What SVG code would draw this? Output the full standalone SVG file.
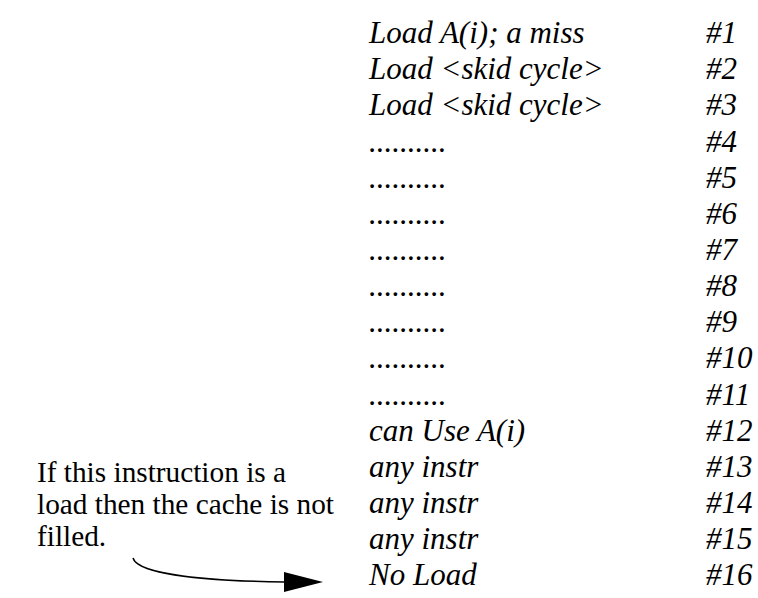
<svg xmlns="http://www.w3.org/2000/svg" width="758" height="598" viewBox="0 0 758 598">
<style>
.r{font-style:italic;font-size:31px}
.n{font-size:29.3px}
</style>
<rect width="758" height="598" fill="#fff"/>
<g font-family="Liberation Serif, Times New Roman, DejaVu Serif, serif" fill="#000">
<g id="row1"><text class="r" x="369" y="43">Load A(i); a miss</text><text class="r" x="706" y="43">#1</text></g>
<g id="row2"><text class="r" x="369" y="79">Load &lt;skid cycle&gt;</text><text class="r" x="706" y="79">#2</text></g>
<g id="row3"><text class="r" x="369" y="115">Load &lt;skid cycle&gt;</text><text class="r" x="706" y="115">#3</text></g>
<g id="row4"><text class="r" x="369" y="152">..........</text><text class="r" x="706" y="152">#4</text></g>
<g id="row5"><text class="r" x="369" y="188">..........</text><text class="r" x="706" y="188">#5</text></g>
<g id="row6"><text class="r" x="369" y="224">..........</text><text class="r" x="706" y="224">#6</text></g>
<g id="row7"><text class="r" x="369" y="260">..........</text><text class="r" x="706" y="260">#7</text></g>
<g id="row8"><text class="r" x="369" y="296">..........</text><text class="r" x="706" y="296">#8</text></g>
<g id="row9"><text class="r" x="369" y="332">..........</text><text class="r" x="706" y="332">#9</text></g>
<g id="row10"><text class="r" x="369" y="368">..........</text><text class="r" x="706" y="368">#10</text></g>
<g id="row11"><text class="r" x="369" y="405">..........</text><text class="r" x="706" y="405">#11</text></g>
<g id="row12"><text class="r" x="369" y="441">can Use A(i)</text><text class="r" x="706" y="441">#12</text></g>
<g id="row13"><text class="r" x="369" y="477">any instr</text><text class="r" x="706" y="477">#13</text></g>
<g id="row14"><text class="r" x="369" y="513">any instr</text><text class="r" x="706" y="513">#14</text></g>
<g id="row15"><text class="r" x="369" y="549">any instr</text><text class="r" x="706" y="549">#15</text></g>
<g id="row16"><text class="r" x="369" y="585">No Load</text><text class="r" x="706" y="585">#16</text></g>
<g id="note">
<text class="n" x="37" y="482">If this instruction is a</text>
<text class="n" x="37" y="514">load then the cache is not</text>
<text class="n" x="37" y="546">filled.</text>
</g>
</g>
<g id="connectors">
<path d="M133,558 C138,575 210,581 285,582" fill="none" stroke="#000" stroke-width="1.5"/>
<polygon points="284,572 323,582 284,592" fill="#000"/>
</g>
</svg>
